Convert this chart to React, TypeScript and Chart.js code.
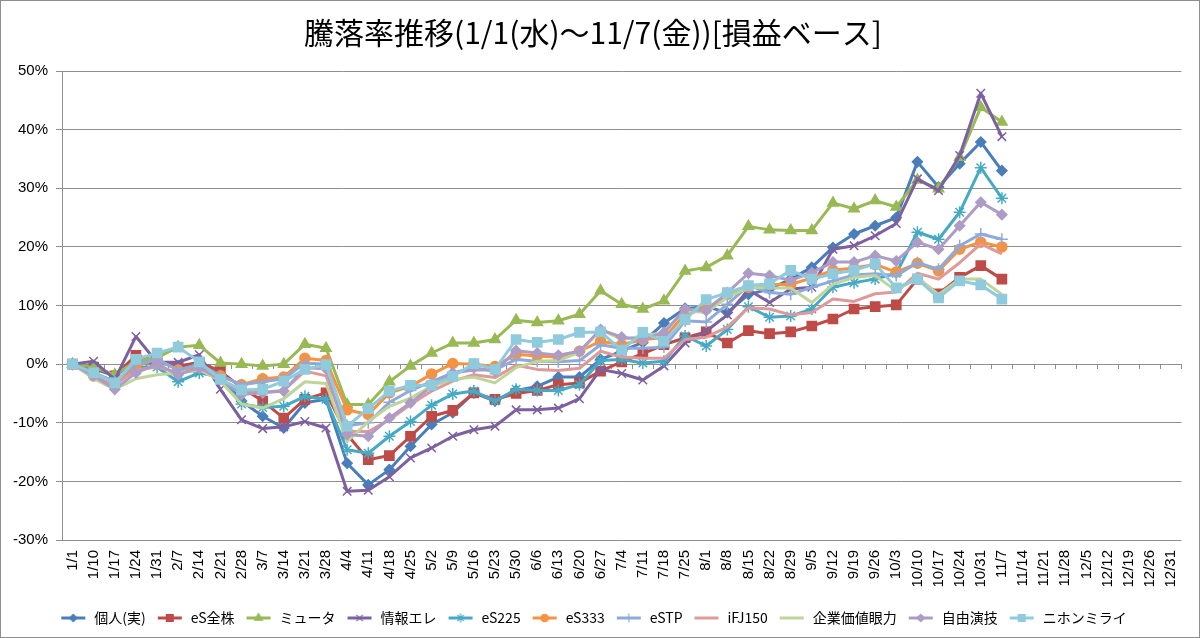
import React, { useEffect, useRef } from 'react';
import { Chart, ChartConfiguration, registerables } from 'chart.js';
import { drawPoint } from 'chart.js/helpers';

Chart.register(...registerables);

const dates = [
  '1/1', '1/10', '1/17', '1/24', '1/31', '2/7', '2/14', '2/21', '2/28', '3/7', '3/14',
  '3/21', '3/28', '4/4', '4/11', '4/18', '4/25', '5/2', '5/9', '5/16', '5/23', '5/30',
  '6/6', '6/13', '6/20', '6/27', '7/4', '7/11', '7/18', '7/25', '8/1', '8/8', '8/15',
  '8/22', '8/29', '9/5', '9/12', '9/19', '9/26', '10/3', '10/10', '10/17', '10/24',
  '10/31', '11/7', '11/14', '11/21', '11/28', '12/5', '12/12', '12/19', '12/26', '12/31',
];

// 騰落率 (%), 1/1 から 11/7 まで
const kojin = [
  0, -0.8, -2.0, 0.5, 0.2, -0.3, 0.3, -2.0, -6.3, -8.9, -10.9, -6.6, -6.0, -16.9, -20.6,
  -18.0, -14.0, -10.3, -8.3, -4.9, -6.3, -4.5, -3.8, -2.2, -2.2, 0.8, 2.2, 3.7, 7.0, 9.5,
  9.8, 8.8, 11.9, 12.8, 14.5, 16.5, 19.9, 22.2, 23.6, 25.0, 34.5, 30.2, 34.2, 37.9, 33.0,
];
const eSzenkabu = [
  0, -0.5, -2.0, 1.5, 0.5, -0.5, 0.3, -1.2, -4.0, -6.3, -9.2, -6.0, -4.9, -12.0, -16.3,
  -15.6, -12.3, -8.9, -7.9, -4.9, -6.0, -5.0, -4.5, -3.5, -3.2, -1.2, 0.4, 1.8, 3.3, 4.5,
  5.5, 3.6, 5.7, 5.2, 5.5, 6.5, 7.7, 9.4, 9.8, 10.1, 14.5, 12.0, 14.8, 16.8, 14.5,
];
const myuta = [
  0, -0.5, -1.8, 0.5, 1.1, 2.9, 3.2, 0.2, 0.0, -0.3, 0.0, 3.4, 2.7, -6.9, -6.9, -3.0,
  -0.3, 1.9, 3.6, 3.6, 4.2, 7.5, 7.1, 7.4, 8.5, 12.5, 10.2, 9.4, 10.8, 15.9, 16.5, 18.5,
  23.5, 22.9, 22.8, 22.8, 27.5, 26.5, 27.9, 26.8, 31.4, 29.9, 35.3, 43.8, 41.3,
];
const johoEle = [
  0, 0.5, -2.6, 4.7, 0.3, 0.3, 1.6, -4.3, -9.5, -11.0, -10.7, -9.8, -10.9, -21.7, -21.5,
  -19.2, -16.0, -14.3, -12.3, -11.2, -10.6, -7.8, -7.8, -7.5, -5.9, -0.9, -1.6, -2.7, -0.3,
  3.6, 5.6, 8.4, 12.7, 10.5, 12.8, 13.1, 19.6, 20.2, 21.9, 24.0, 31.6, 29.6, 35.6, 46.2, 38.8,
];
const eS225 = [
  0, -1.5, -3.0, -0.5, -0.5, -3.0, -1.5, -2.1, -6.8, -7.4, -7.2, -5.5, -6.0, -14.6, -15.2,
  -12.3, -9.8, -7.0, -5.1, -4.6, -6.3, -4.3, -4.5, -4.5, -3.5, 0.6, 0.8, 0.2, 0.5, 4.8,
  3.1, 5.9, 9.8, 8.0, 8.2, 9.4, 13.1, 13.9, 14.5, 15.5, 22.5, 21.3, 25.9, 33.5, 28.3,
];
const eS333 = [
  0, -2.0, -3.5, -0.3, 0.8, -1.0, -0.5, -2.0, -3.5, -2.5, -2.2, 1.0, 0.6, -7.8, -8.6,
  -4.9, -3.8, -1.7, 0.1, 0.0, -0.4, 1.7, 1.4, 1.2, 2.2, 3.9, 3.3, 4.2, 4.5, 8.5, 9.4,
  11.9, 13.1, 13.6, 13.6, 14.7, 16.0, 16.4, 17.0, 15.7, 17.2, 15.9, 19.6, 20.8, 20.0,
];
const eSTP = [
  0, -1.5, -3.0, 0.0, 0.8, -1.0, 0.0, -2.0, -3.5, -3.0, -2.5, 0.2, 0.0, -10.5, -10.0,
  -6.5, -4.5, -3.0, -1.5, -1.0, -1.0, 0.8, 0.5, 0.4, 0.6, 3.3, 2.7, 2.7, 2.9, 7.4, 7.2,
  10.2, 13.4, 12.2, 11.9, 13.1, 14.2, 15.2, 15.4, 15.1, 17.3, 16.2, 20.2, 22.2, 21.3,
];
const iFJ150 = [
  0, -2.0, -3.5, -1.0, -0.5, -1.5, -1.0, -2.5, -4.8, -4.8, -4.5, -1.2, -2.0, -11.5, -11.5,
  -9.5, -6.9, -4.6, -2.9, -1.8, -2.3, -0.2, -0.9, -1.1, -0.7, 2.2, 1.2, 1.0, 1.0, 4.2,
  4.6, 6.3, 9.6, 9.4, 8.4, 8.8, 11.1, 10.7, 12.0, 12.3, 15.5, 14.5, 17.3, 20.5, 18.8,
];
const kigyoKachi = [
  0, -2.5, -4.3, -2.5, -1.8, -1.5, -0.9, -2.9, -6.8, -7.5, -5.9, -3.0, -3.3, -13.2, -9.8,
  -7.2, -5.8, -3.8, -2.6, -2.2, -3.2, -0.6, 0.5, 0.6, 2.0, 5.9, 4.2, 4.8, 5.4, 9.1, 8.8,
  11.4, 13.1, 13.0, 13.0, 10.5, 13.6, 14.8, 15.1, 12.5, 14.8, 11.9, 14.5, 14.5, 11.9,
];
const jiyuEngi = [
  0, -2.0, -4.3, -1.5, 0.0, -1.8, -0.6, -2.6, -5.2, -4.9, -4.6, -0.6, -0.8, -12.0, -12.3,
  -9.2, -6.6, -3.8, -1.5, -0.6, -1.2, 2.3, 1.9, 1.5, 2.2, 5.9, 4.6, 4.2, 5.4, 9.4, 9.1,
  12.2, 15.5, 15.1, 14.3, 15.6, 17.4, 17.4, 18.5, 17.6, 20.8, 19.6, 23.6, 27.6, 25.5,
];
const nihonMirai = [
  0, -1.5, -3.2, 0.8, 1.9, 2.9, 0.4, -2.6, -4.4, -4.3, -2.9, -0.9, -0.1, -10.6, -7.6,
  -4.6, -3.6, -3.6, -2.1, 0.1, -0.9, 4.2, 3.7, 4.2, 5.4, 5.5, 2.4, 5.4, 3.9, 7.6, 11.0,
  12.2, 13.4, 13.7, 16.0, 14.5, 15.4, 16.0, 17.1, 13.0, 14.5, 11.3, 14.2, 13.5, 11.1,
];

const yTicks = [-30, -20, -10, 0, 10, 20, 30, 40, 50];

const series = [
  { label: '個人(実)', data: kojin, color: '#4A7EBB', point: 'rectRot', radius: 5 },
  { label: 'eS全株', data: eSzenkabu, color: '#BE4B48', point: 'rect', radius: 6.5 },
  { label: 'ミュータ', data: myuta, color: '#98B954', point: 'triangle', radius: 6 },
  { label: '情報エレ', data: johoEle, color: '#7D60A0', point: 'crossRot', radius: 6 },
  { label: 'eS225', data: eS225, color: '#46AAC5', point: 'star', radius: 6 },
  { label: 'eS333', data: eS333, color: '#F69240', point: 'circle', radius: 5 },
  { label: 'eSTP', data: eSTP, color: '#8EAADB', point: 'cross', radius: 6 },
  { label: 'iFJ150', data: iFJ150, color: '#DD9A98', point: 'circle', radius: 0 },
  { label: '企業価値眼力', data: kigyoKachi, color: '#BFD49A', point: 'circle', radius: 0 },
  { label: '自由演技', data: jiyuEngi, color: '#AD9CC6', point: 'rectRot', radius: 5 },
  { label: 'ニホンミライ', data: nihonMirai, color: '#8FCBDC', point: 'rect', radius: 6.5 },
];

const JP = '"Noto Sans CJK JP", "Noto Sans", sans-serif';
const NUM = '"Liberation Sans", Arial, sans-serif';
const GRID = '#8e8e8e';

// legend sample: short line with the marker in the middle
const makeLegendIcon = (color: string, point: string, radius: number) => {
  const c = document.createElement('canvas');
  c.width = 28;
  c.height = 14;
  const ctx = c.getContext('2d')!;
  ctx.strokeStyle = color;
  ctx.fillStyle = color;
  ctx.lineWidth = 3;
  ctx.beginPath();
  ctx.moveTo(2, 7);
  ctx.lineTo(26, 7);
  ctx.stroke();
  if (radius > 0) {
    ctx.lineWidth = 1.2;
    drawPoint(ctx, { pointStyle: point as any, radius: radius * 0.75, rotation: 0, borderWidth: 1.2 }, 14, 7);
  }
  return c;
};

const zeroAxisTicks = {
  id: 'zeroAxisTicks',
  beforeDatasetsDraw(chart: Chart) {
    const { ctx } = chart;
    const x = chart.scales.x;
    const y = chart.scales.y;
    const y0 = Math.round(y.getPixelForValue(0));
    const half = (x.getPixelForValue(1) - x.getPixelForValue(0)) / 2;
    ctx.save();
    ctx.strokeStyle = GRID;
    ctx.lineWidth = 1;
    for (let i = 0; i <= dates.length; i++) {
      const px = Math.round(x.getPixelForValue(i) - half) + 0.5;
      ctx.beginPath();
      ctx.moveTo(px, y0);
      ctx.lineTo(px, y0 + 5);
      ctx.stroke();
    }
    ctx.restore();
  },
};

const App: React.FC = () => {
  const chartRef = useRef<HTMLCanvasElement | null>(null);
  const chartInstance = useRef<Chart | null>(null);

  useEffect(() => {
    if (!chartRef.current) return;
    const ctx = chartRef.current.getContext('2d');
    if (!ctx) return;
    if (chartInstance.current) chartInstance.current.destroy();

    const icons = series.map((s) => makeLegendIcon(s.color, s.point, s.radius));

    const config: ChartConfiguration = {
      type: 'line',
      data: {
        labels: dates,
        datasets: series.map((s, i) => ({
          label: s.label,
          data: s.data,
          borderColor: s.color,
          backgroundColor: s.color,
          borderWidth: 3,
          borderJoinStyle: 'round',
          pointStyle: s.point as any,
          pointRadius: s.radius,
          pointHoverRadius: s.radius,
          pointBackgroundColor: s.color,
          pointBorderColor: s.color,
          pointBorderWidth: 1.5,
          tension: 0,
          fill: false,
          order: -i,
        })),
      },
      options: {
        animation: false,
        responsive: true,
        maintainAspectRatio: false,
        layout: { padding: { left: 0, right: 14, top: 0, bottom: 2 } },
        scales: {
          x: {
            offset: true,
            grid: { display: false, drawTicks: false },
            border: { display: false },
            ticks: {
              autoSkip: false,
              minRotation: 90,
              maxRotation: 90,
              padding: 10,
              color: '#000',
              font: { family: NUM, size: 15 },
            },
            afterFit: (scale) => {
              scale.height = 61;
            },
          },
          y: {
            min: -30,
            max: 50,
            afterBuildTicks: (scale) => {
              scale.ticks = yTicks.map((v) => ({ value: v }));
            },
            ticks: {
              color: '#000',
              padding: 8,
              font: { family: NUM, size: 15 },
              callback: (v) => `${v}%`,
            },
            grid: { color: GRID, lineWidth: 1, tickLength: 6 },
            border: { color: GRID, width: 1 },
            afterFit: (scale) => {
              scale.width = 61;
            },
          },
        },
        plugins: {
          title: {
            display: true,
            text: '騰落率推移(1/1(水)～11/7(金))[損益ベース]',
            color: '#000',
            font: { family: JP, size: 30, weight: 'normal' },
            padding: { top: 14, bottom: 20 },
          },
          legend: {
            position: 'bottom',
            labels: {
              usePointStyle: true,
              pointStyleWidth: 28,
              padding: 10,
              color: '#000',
              font: { family: JP, size: 14 },
              generateLabels: (chart) =>
                chart.data.datasets.map((ds, i) => ({
                  text: ds.label as string,
                  fillStyle: series[i].color,
                  strokeStyle: series[i].color,
                  lineWidth: 0,
                  pointStyle: icons[i],
                  hidden: false,
                  datasetIndex: i,
                  fontColor: '#000',
                })),
            },
          },
          tooltip: { enabled: false },
        },
      },
      plugins: [zeroAxisTicks],
    };

    chartInstance.current = new Chart(ctx, config);

    return () => {
      if (chartInstance.current) {
        chartInstance.current.destroy();
        chartInstance.current = null;
      }
    };
  }, []);

  return (
    <div
      style={{
        position: 'absolute',
        left: 0,
        top: 0,
        width: 1200,
        height: 638,
        boxSizing: 'border-box',
        border: `1px solid ${GRID}`,
        background: '#fff',
      }}
    >
      <canvas ref={chartRef} />
    </div>
  );
};

export default App;
